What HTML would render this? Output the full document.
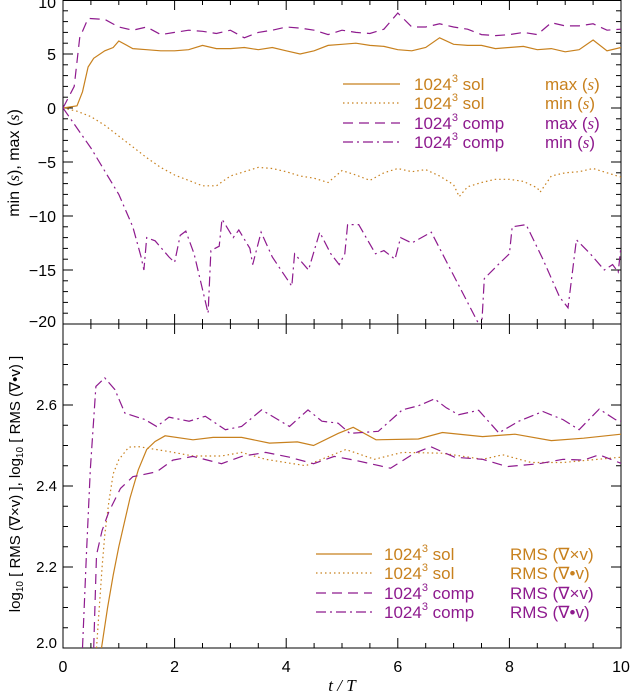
<!DOCTYPE html>
<html><head><meta charset="utf-8"><style>
html,body{margin:0;padding:0;background:#fff}
svg{display:block;font-family:"Liberation Sans",sans-serif}
</style></head><body>
<svg id="chart" width="631" height="695" viewBox="0 0 631 695" xmlns="http://www.w3.org/2000/svg"></svg>
<script>
// ---- data ----
const topTicks=[10,5,0,-5,-10,-15,-20];
const topTickLabels=["10","5","0","\u22125","\u221210","\u221215","\u221220"];
const botTicks=[2.0,2.2,2.4,2.6];
const botTickLabels=["2.0","2.2","2.4","2.6"];
const xTicks=[0,2,4,6,8,10];
const xTickLabels=["0","2","4","6","8","10"];

const solMaxT=[0,0.25,0.35,0.45,0.55,0.75,0.9,1.0,1.25,1.5,1.75,2.0,2.25,2.5,2.75,3.0,3.25,3.5,3.75,4.0,4.25,4.5,4.75,5.0,5.25,5.5,5.75,6.0,6.25,6.5,6.75,7.0,7.25,7.5,7.75,8.0,8.25,8.5,8.75,9.0,9.25,9.5,9.75,10];
const solMaxV=[0,0.2,1.5,3.8,4.6,5.3,5.6,6.2,5.5,5.4,5.3,5.3,5.4,5.8,5.5,5.5,5.6,5.4,5.6,5.3,5.0,5.3,5.8,5.9,6.0,5.8,5.7,5.4,5.3,5.6,6.5,5.9,5.8,5.8,5.5,5.6,5.7,5.4,5.5,5.2,5.4,6.3,5.3,5.6];
const compMaxT=[0,0.2,0.3,0.45,0.75,1.0,1.25,1.5,1.75,2.0,2.25,2.5,2.75,3.0,3.25,3.5,3.75,4.0,4.25,4.5,4.75,5.0,5.25,5.5,5.75,6.0,6.25,6.5,6.75,7.0,7.25,7.5,7.75,8.0,8.25,8.5,8.75,9.0,9.25,9.5,9.75,10];
const compMaxV=[0,2.0,6.5,8.3,8.2,7.5,7.2,7.5,6.8,7.0,7.2,7.1,6.9,7.2,6.5,7.0,7.2,7.5,7.4,7.2,6.8,7.2,7.0,6.9,7.3,8.8,7.5,7.5,7.8,7.5,7.3,6.8,6.7,6.8,7.0,6.8,7.9,7.6,7.6,7.8,7.2,7.3];
const solMinT=[0,0.25,0.5,0.75,1.0,1.25,1.5,1.75,2.0,2.25,2.5,2.75,3.0,3.25,3.5,3.75,4.0,4.25,4.5,4.75,5.0,5.25,5.5,5.75,6.0,6.25,6.5,6.75,7.0,7.1,7.25,7.5,7.75,8.0,8.25,8.5,8.55,8.75,9.0,9.25,9.5,9.75,10];
const solMinV=[0,-0.3,-0.8,-1.6,-2.6,-3.6,-4.6,-5.5,-6.2,-6.7,-7.2,-7.2,-6.3,-5.9,-5.5,-5.6,-5.9,-6.3,-6.5,-6.9,-5.8,-6.2,-6.7,-6.0,-5.6,-5.9,-5.7,-6.3,-7.1,-8.2,-7.3,-6.9,-6.6,-6.6,-6.8,-7.4,-7.8,-6.3,-6.0,-5.9,-5.6,-6.0,-6.4];
const compMinT=[0,0.5,1.0,1.25,1.4,1.45,1.5,1.65,1.9,2.0,2.1,2.2,2.35,2.6,2.65,2.8,2.85,3.05,3.15,3.35,3.4,3.55,3.75,4.1,4.15,4.4,4.6,4.8,4.95,5.05,5.1,5.3,5.6,5.75,5.95,6.05,6.25,6.6,6.9,7.1,7.5,7.55,7.8,8.0,8.05,8.3,8.6,8.9,9.05,9.2,9.45,9.7,9.85,9.95,10];
const compMinV=[0,-3.7,-8.0,-11,-13.8,-15,-12,-12.3,-13.8,-14.3,-11.8,-11.4,-13.5,-19.0,-13.2,-12.8,-10.3,-12,-11.3,-13,-14.5,-11.5,-13.8,-16.5,-13.5,-15,-11.5,-13.5,-14.5,-13.5,-10.8,-10.8,-13.5,-13.2,-14,-12,-12.5,-11.5,-14.5,-16.5,-20.5,-15.8,-14.5,-13.5,-11,-10.8,-14,-17.5,-18.5,-12.2,-13.5,-15,-14.5,-15.2,-12.8];

const solCurlT=[0.69,0.8,0.9,1.0,1.1,1.2,1.35,1.5,1.65,1.83,2.33,2.69,3.2,3.7,4.2,4.49,4.93,5.2,5.61,6.37,6.8,7.52,8.1,8.75,9.33,10];
const solCurlV=[2.0,2.1,2.18,2.25,2.31,2.37,2.44,2.49,2.51,2.524,2.514,2.52,2.52,2.506,2.509,2.5,2.53,2.545,2.514,2.516,2.532,2.522,2.528,2.512,2.518,2.528];
const solDivT=[0.6,0.65,0.7,0.75,0.82,0.9,1.0,1.18,1.36,1.9,2.33,2.84,3.2,3.63,4.35,5.07,5.58,6.08,6.8,7.52,7.88,8.39,8.96,10];
const solDivV=[2.0,2.1,2.2,2.28,2.36,2.43,2.465,2.496,2.497,2.485,2.474,2.474,2.483,2.466,2.45,2.49,2.466,2.483,2.481,2.466,2.477,2.458,2.458,2.471];
const compCurlT=[0.55,0.6,0.7,0.82,1.03,1.25,1.68,1.97,2.33,2.84,3.2,3.63,4.06,4.49,4.86,5.22,5.87,6.3,6.59,7.02,7.52,7.96,8.53,8.96,9.33,9.61,10];
const compCurlV=[2.0,2.23,2.29,2.336,2.394,2.423,2.435,2.464,2.473,2.455,2.473,2.483,2.471,2.455,2.473,2.464,2.444,2.481,2.497,2.471,2.466,2.448,2.455,2.466,2.464,2.477,2.456];
const compDivT=[0.35,0.42,0.49,0.59,0.75,0.93,1.11,1.47,1.68,1.9,2.26,2.55,2.91,3.2,3.56,4.06,4.39,4.64,4.93,5.14,5.65,6.08,6.37,6.66,6.87,7.09,7.45,7.81,8.17,8.6,8.96,9.25,9.61,9.9,10];
const compDivV=[2.0,2.23,2.44,2.646,2.667,2.638,2.58,2.564,2.547,2.57,2.56,2.572,2.539,2.547,2.588,2.547,2.588,2.56,2.555,2.53,2.535,2.588,2.598,2.615,2.593,2.576,2.587,2.531,2.56,2.584,2.564,2.539,2.59,2.564,2.56];

// ---- layout ----
const NS="http://www.w3.org/2000/svg";
const svg=document.getElementById('chart');
const X0=63,X1=621;
const xs=t=>X0+(X1-X0)*t/10;
const yTop=v=>108-10.8*v;
const yBot=v=>648-405*(v-2);
const OR="#c8811e",PU="#8e1a8e";
function mk(tag,attrs,parent){const e=document.createElementNS(NS,tag);for(const k in attrs)e.setAttribute(k,attrs[k]);(parent||svg).appendChild(e);return e;}

const defs=mk('defs',{});
const c1=mk('clipPath',{id:'c1'},defs);mk('rect',{x:X0,y:0,width:X1-X0,height:324},c1);
const c2=mk('clipPath',{id:'c2'},defs);mk('rect',{x:X0,y:324,width:X1-X0,height:324},c2);

const f1=mk('rect',{x:X0,y:0.5,width:X1-X0,height:323.5,fill:'none',stroke:'#000','stroke-width':1});

const f2=mk('rect',{x:X0,y:324,width:X1-X0,height:324,fill:'none',stroke:'#000','stroke-width':1});


const tg=mk('g',{stroke:'#000','stroke-width':1});

for(let i=0;i<=20;i++){const t=i*0.5,x=xs(t),L=(i%4==0)?10:5;
  [[0,1],[324,1],[324,-1],[648,-1]].forEach(([y,d])=>mk('line',{x1:x,x2:x,y1:y,y2:y+d*L},tg));}
for(let v=-20;v<=10;v++){const y=yTop(v),L=(v%5==0)?10:5;
  mk('line',{x1:X0,x2:X0+L,y1:y,y2:y},tg);mk('line',{x1:X1,x2:X1-L,y1:y,y2:y},tg);}
for(let i=0;i<=16;i++){const v=2+i*0.05,y=yBot(v),L=(i%4==0)?10:5;
  mk('line',{x1:X0,x2:X0+L,y1:y,y2:y},tg);mk('line',{x1:X1,x2:X1-L,y1:y,y2:y},tg);}

topTicks.forEach((v,i)=>{const e=mk('text',{x:X0-7,y:yTop(v)+6+(v==10?2:0)+(v==-20?-3:0),'text-anchor':'end','font-size':16});e.textContent=topTickLabels[i];
  });
botTicks.forEach((v,i)=>{const e=mk('text',{x:X0-6,y:yBot(v)+5-(v==2?5:0),'text-anchor':'end','font-size':15});e.textContent=botTickLabels[i];
  });
xTicks.forEach((t,i)=>{const e=mk('text',{x:xs(t),y:672,'text-anchor':'middle','font-size':16});e.textContent=xTickLabels[i];
  });

let e=mk('text',{x:0,y:0,'font-size':16,'text-anchor':'middle',transform:'translate(19,163) rotate(-90)'});
e.innerHTML='min (<tspan font-style="italic" font-family="Liberation Serif">s</tspan>), max (<tspan font-style="italic" font-family="Liberation Serif">s</tspan>)';

e=mk('text',{x:0,y:0,'font-size':15,'text-anchor':'middle',transform:'translate(20,484) rotate(-90)'});
e.innerHTML='log<tspan font-size="10" dy="3">10</tspan><tspan dy="-3"> [ RMS (\u2207\u00d7v) ], log</tspan><tspan font-size="10" dy="3">10</tspan><tspan dy="-3"> [ RMS (\u2207\u2022v) ]</tspan>';

e=mk('text',{x:342,y:691,'font-size':17,'text-anchor':'middle','font-style':'italic','font-family':'Liberation Serif'});
e.textContent='t / T';


const dashes={solid:'',dot:'1.5 3',dash:'10 6',dashdot:'10 4 2 4'};
function series(T,V,yf,color,style,clip,name){
  const d=T.map((t,i)=>(i?'L':'M')+xs(t).toFixed(1)+','+yf(V[i]).toFixed(1)).join('');
  const p=mk('path',{d:d,fill:'none',stroke:color,'stroke-width':1.2,'stroke-dasharray':dashes[style],'clip-path':'url(#'+clip+')'});
  
  
}
series(solMaxT,solMaxV,yTop,OR,'solid','c1','sol-max-line');
series(solMinT,solMinV,yTop,OR,'dot','c1','sol-min-line');
series(compMaxT,compMaxV,yTop,PU,'dash','c1','comp-max-line');
series(compMinT,compMinV,yTop,PU,'dashdot','c1','comp-min-line');
series(solCurlT,solCurlV,yBot,OR,'solid','c2','sol-rms-curl-line');
series(solDivT,solDivV,yBot,OR,'dot','c2','sol-rms-div-line');
series(compCurlT,compCurlV,yBot,PU,'dash','c2','comp-rms-curl-line');
series(compDivT,compDivV,yBot,PU,'dashdot','c2','comp-rms-div-line');

function legend(x1,x2,tx,qx,rows,name){
  const g=mk('g',{});
  rows.forEach(r=>{
    mk('line',{x1:x1,x2:x2,y1:r.y-6,y2:r.y-6,stroke:r.c,'stroke-width':1.2,'stroke-dasharray':dashes[r.s]},g);
    const t=mk('text',{x:tx,y:r.y,fill:r.c,'font-size':17},g);
    t.innerHTML='1024<tspan font-size="11" dy="-8">3</tspan><tspan dy="8"> '+r.l+'</tspan>';
    const q=mk('text',{x:qx,y:r.y,fill:r.c,'font-size':17},g);q.innerHTML=r.q;
  });
}
const S='(<tspan font-style="italic" font-family="Liberation Serif">s</tspan>)';
legend(343,400,414,545,[
 {y:90,c:OR,s:'solid',l:'sol',q:'max '+S},
 {y:109,c:OR,s:'dot',l:'sol',q:'min '+S},
 {y:129,c:PU,s:'dash',l:'comp',q:'max '+S},
 {y:148,c:PU,s:'dashdot',l:'comp',q:'min '+S}],'top-legend');
legend(316,372,384,510,[
 {y:560,c:OR,s:'solid',l:'sol',q:'RMS (\u2207\u00d7v)'},
 {y:579,c:OR,s:'dot',l:'sol',q:'RMS (\u2207\u2022v)'},
 {y:599,c:PU,s:'dash',l:'comp',q:'RMS (\u2207\u00d7v)'},
 {y:618,c:PU,s:'dashdot',l:'comp',q:'RMS (\u2207\u2022v)'}],'bottom-legend');
</script>
</body></html>
